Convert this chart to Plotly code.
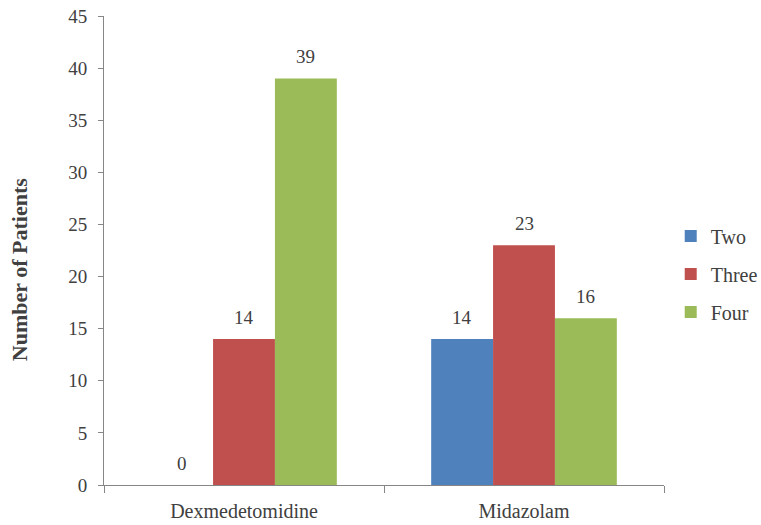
import plotly.graph_objects as go

categories = ["Dexmedetomidine", "Midazolam"]
series_names = ["Two", "Three", "Four"]
two = [0, 14]
three = [14, 23]
four = [39, 16]
colors = ["#4F81BD", "#C0504D", "#9BBB59"]
y_ticks = [0, 5, 10, 15, 20, 25, 30, 35, 40, 45]

FONT = "Liberation Serif"
TXT = "#404040"
BARGAP = 0.337

fig = go.Figure()
series = [two, three, four]
n = len(series)
bar_w = (1 - BARGAP) / n
annotations = []
for i, (name, vals) in enumerate(zip(series_names, series)):
    fig.add_trace(go.Bar(
        x=categories, y=vals, name=name, legendgroup=name,
        marker=dict(color=colors[i], line=dict(width=0)),
    ))
    for ci, v in enumerate(vals):
        annotations.append(dict(
            x=ci + (i - (n - 1) / 2) * bar_w, y=v, xref="x", yref="y",
            text=str(v), showarrow=False, xanchor="center", yanchor="middle",
            yshift=22, font=dict(family=FONT, size=19, color=TXT)))

annotations.append(dict(text="<b>Number of Patients</b>", x=-0.152, xref="paper", y=0.46,
                        yref="paper", textangle=-90, showarrow=False,
                        xanchor="center", yanchor="middle",
                        font=dict(family=FONT, size=22, color=TXT)))

fig.update_layout(
    width=761, height=525,
    margin=dict(l=104, r=97, t=16, b=40, autoexpand=False),
    paper_bgcolor="white", plot_bgcolor="white",
    barmode="group", bargap=BARGAP, bargroupgap=0,
    font=dict(family=FONT, size=19, color=TXT),
    showlegend=True,
    legend=dict(x=1.012, y=0.45, xanchor="left", yanchor="middle",
                font=dict(family=FONT, size=20, color=TXT),
                tracegroupgap=9, itemwidth=30),
    xaxis=dict(showline=True, linecolor="#868686", linewidth=1,
               ticks="outside", tickson="boundaries", ticklen=7, tickcolor="#868686",
               ticklabelstandoff=8,
               tickfont=dict(family=FONT, size=20, color=TXT), showgrid=False),
    yaxis=dict(range=[0, 45], tickvals=y_ticks, showline=True, linecolor="#868686",
               linewidth=1, ticks="outside", ticklen=5, tickcolor="#868686",
               ticklabelstandoff=7,
               tickfont=dict(family=FONT, size=19, color=TXT), showgrid=False,
               zeroline=False),
    annotations=annotations,
)
fig.write_html("out.html")
